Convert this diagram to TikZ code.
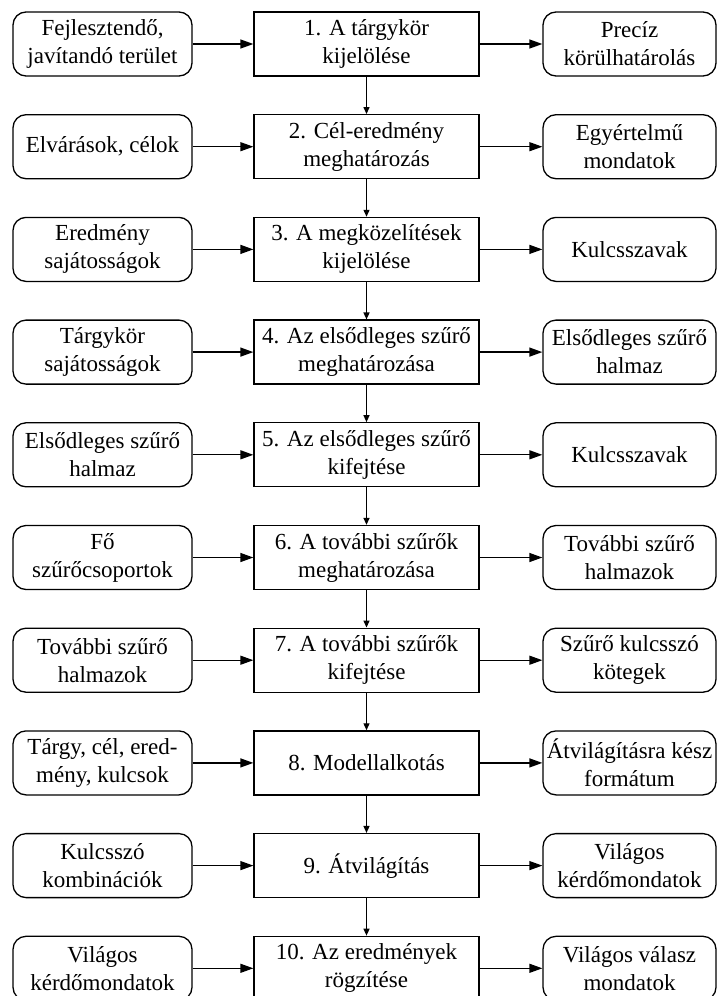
\documentclass[tikz,border=0pt]{standalone}
\usepackage{fontspec}
\setmainfont{Liberation Serif}
\usetikzlibrary{arrows.meta}
\begin{document}
\begin{tikzpicture}[x=1pt,y=-1pt,
  box/.style={draw,line width=1.3pt,align=center,
    font=\fontsize{23}{28}\selectfont,inner sep=0pt},
  stepbox/.style={box,minimum width=225pt,minimum height=64pt},
  inbox/.style={box,rounded corners=13pt,minimum width=179pt,minimum height=64pt},
  outbox/.style={box,rounded corners=13pt,minimum width=173pt,minimum height=64pt},
  flow/.style={line width=1.3pt,-{Triangle[length=13pt,width=9pt]}},
  down/.style={line width=1.3pt,-{Triangle[length=7pt,width=6pt]}}]
\useasboundingbox (0,0) rectangle (718,996);

% row 1
\node[inbox]   (L1) at (102.5,44) {Fejlesztendő,\\javítandó terület};
\node[stepbox] (C1) at (366.5,44) {1. A tárgykör\\kijelölése};
\node[outbox]  (R1) at (629.5,44) {Precíz\\körülhatárolás};
% row 2
\node[inbox]   (L2) at (102.5,146.7) {Elvárások, célok};
\node[stepbox] (C2) at (366.5,146.7) {2. Cél-eredmény\\meghatározás};
\node[outbox]  (R2) at (629.5,146.7) {Egyértelmű\\mondatok};
% row 3
\node[inbox]   (L3) at (102.5,249.4) {Eredmény\\sajátosságok};
\node[stepbox] (C3) at (366.5,249.4) {3. A megközelítések\\kijelölése};
\node[outbox]  (R3) at (629.5,249.4) {Kulcsszavak};
% row 4
\node[inbox]   (L4) at (102.5,352.1) {Tárgykör\\sajátosságok};
\node[stepbox] (C4) at (366.5,352.1) {4. Az elsődleges szűrő\\meghatározása};
\node[outbox]  (R4) at (629.5,352.1) {Elsődleges szűrő\\halmaz};
% row 5
\node[inbox]   (L5) at (102.5,454.8) {Elsődleges szűrő\\halmaz};
\node[stepbox] (C5) at (366.5,454.8) {5. Az elsődleges szűrő\\kifejtése};
\node[outbox]  (R5) at (629.5,454.8) {Kulcsszavak};
% row 6
\node[inbox]   (L6) at (102.5,557.5) {Fő\\szűrőcsoportok};
\node[stepbox] (C6) at (366.5,557.5) {6. A további szűrők\\meghatározása};
\node[outbox]  (R6) at (629.5,557.5) {További szűrő\\halmazok};
% row 7
\node[inbox]   (L7) at (102.5,660.2) {További szűrő\\halmazok};
\node[stepbox] (C7) at (366.5,660.2) {7. A további szűrők\\kifejtése};
\node[outbox]  (R7) at (629.5,660.2) {Szűrő kulcsszó\\kötegek};
% row 8
\node[inbox]   (L8) at (102.5,762.9) {Tárgy, cél, ered-\\mény, kulcsok};
\node[stepbox] (C8) at (366.5,762.9) {8. Modellalkotás};
\node[outbox]  (R8) at (629.5,762.9) {Átvilágításra kész\\formátum};
% row 9
\node[inbox]   (L9) at (102.5,865.6) {Kulcsszó\\kombinációk};
\node[stepbox] (C9) at (366.5,865.6) {9. Átvilágítás};
\node[outbox]  (R9) at (629.5,865.6) {Világos\\kérdőmondatok};
% row 10
\node[inbox]   (L10) at (102.5,968.3) {Világos\\kérdőmondatok};
\node[stepbox] (C10) at (366.5,968.3) {10. Az eredmények\\rögzítése};
\node[outbox]  (R10) at (629.5,968.3) {Világos válasz\\mondatok};

% inputs and outputs of each step
\foreach \i in {1,...,10} {
  \draw[flow] (L\i) -- (C\i);
  \draw[flow] (C\i) -- (R\i);
}
% step sequence
\foreach \i [evaluate=\i as \j using int(\i+1)] in {1,...,9}
  \draw[down] (C\i) -- (C\j);
\end{tikzpicture}
\end{document}
